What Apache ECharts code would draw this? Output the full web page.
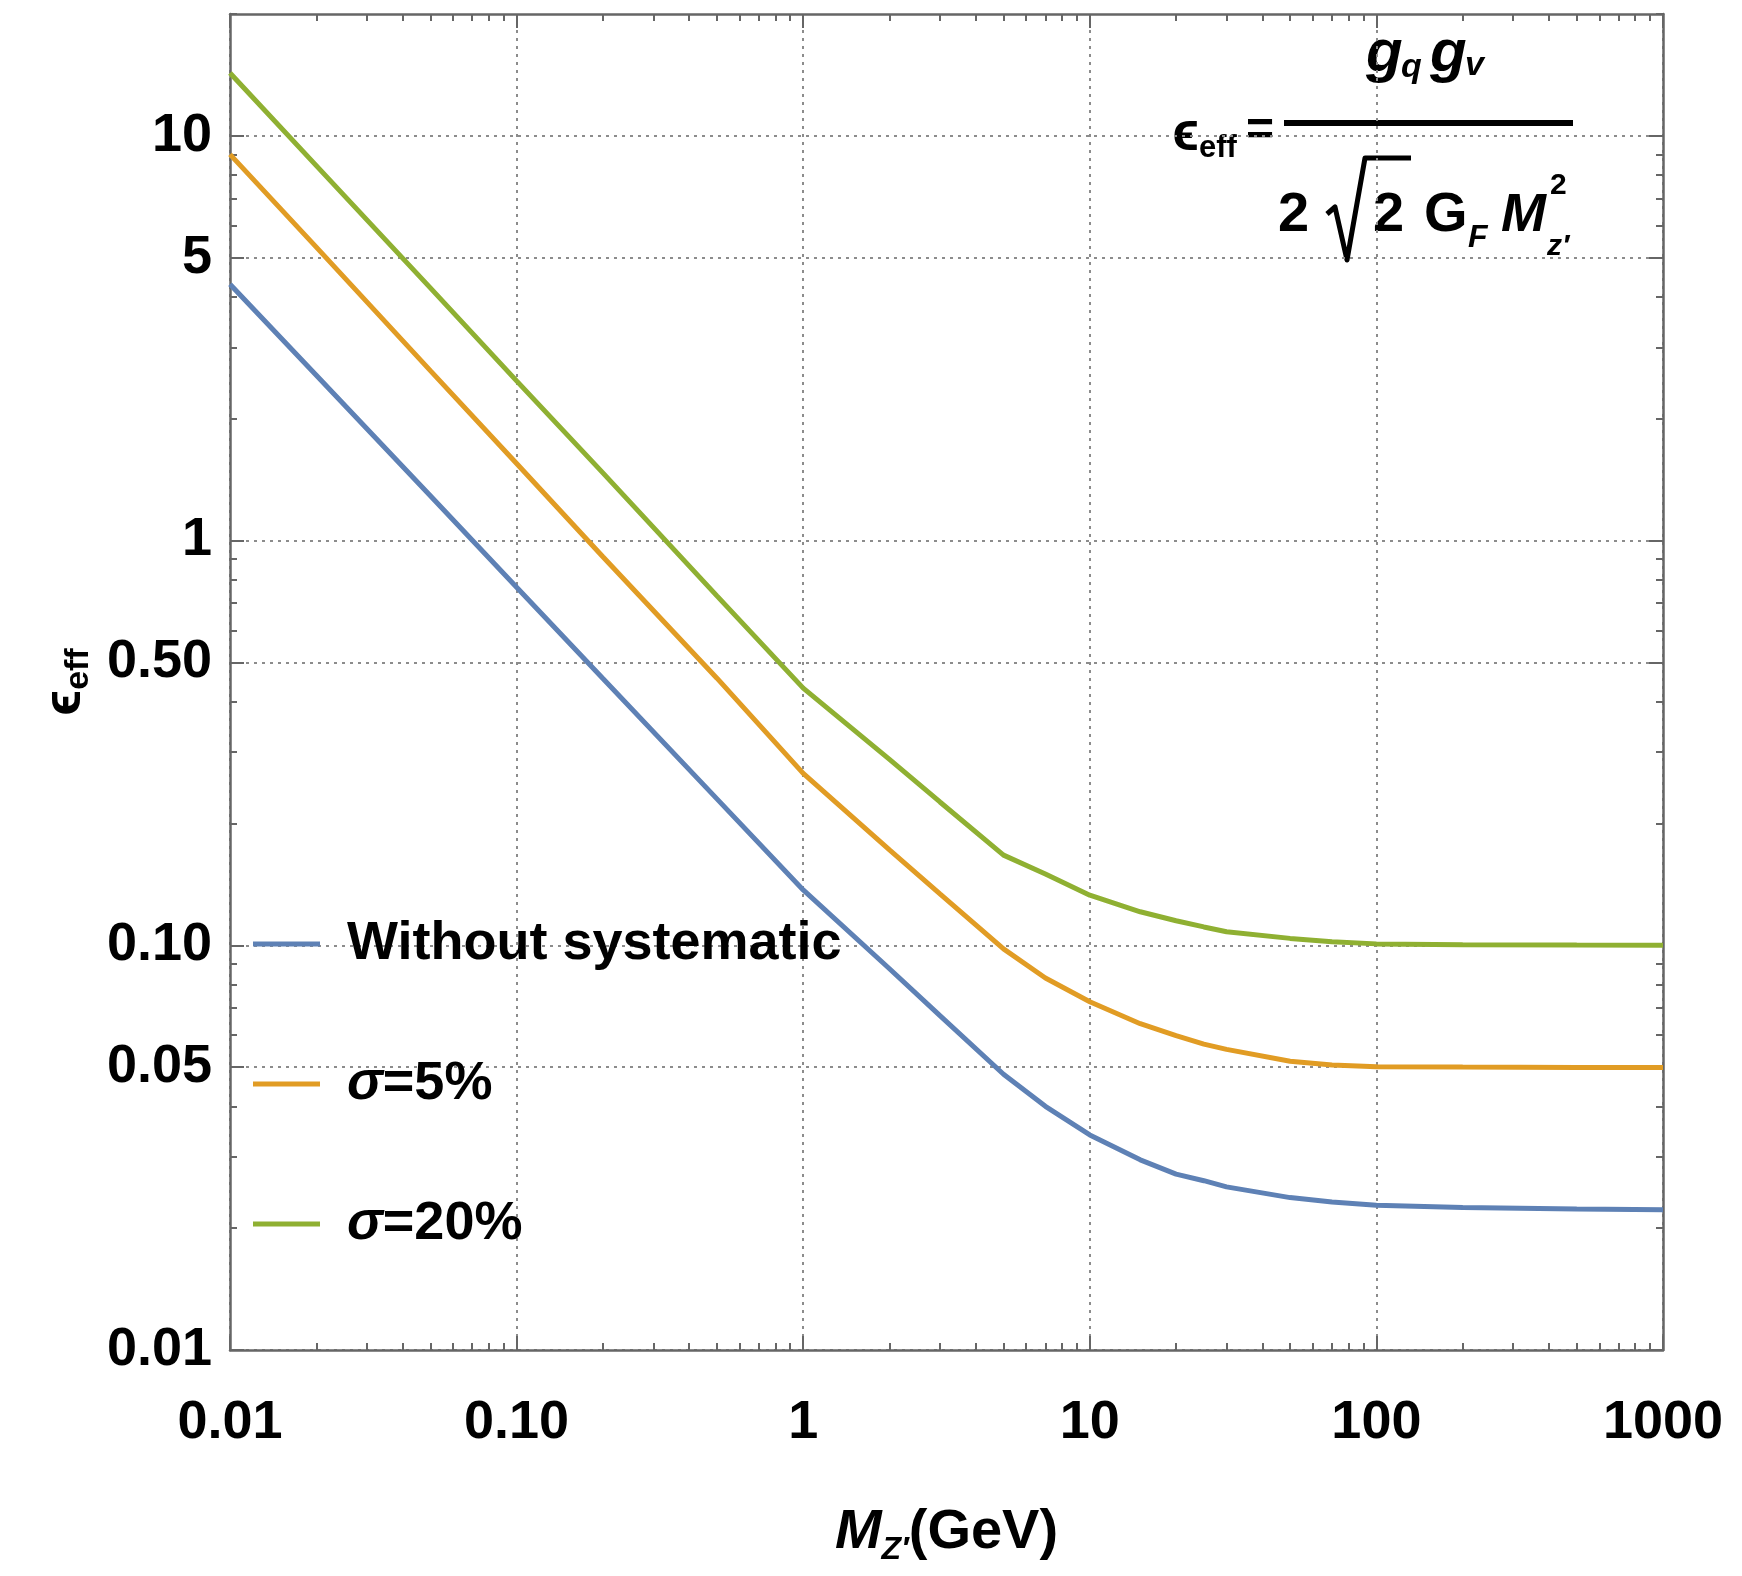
<!DOCTYPE html>
<html lang="en">
<head>
    <meta charset="UTF-8">
    <title>epsilon_eff vs M_Z'</title>
    <script src="https://cdn.jsdelivr.net/npm/echarts@6.0.0/dist/echarts.min.js"></script>
    <style>
        html, body {
            margin: 0;
            padding: 0;
            background: #fff;
        }
        #chart {
            width: 1742px;
            height: 1576px;
        }
    </style>
</head>
<body>

<div id="chart"></div>

<script>
const xValues = [0.01, 0.02, 0.05, 0.1, 0.2, 0.5, 1, 2, 3, 5, 7, 10, 15, 20, 25, 30, 50, 70, 100, 200, 500, 1000];

// epsilon_eff
const noSystValues = [4.3, 2.56, 1.29, 0.767, 0.456, 0.23, 0.137, 0.0875, 0.067, 0.048, 0.04, 0.034, 0.0295, 0.0272, 0.0262, 0.0253, 0.0238, 0.0232, 0.0228, 0.0225, 0.0223, 0.0222];
const sigma5Values = [9.0, 5.31, 2.63, 1.55, 0.912, 0.457, 0.266, 0.172, 0.134, 0.098, 0.083, 0.0725, 0.064, 0.0598, 0.057, 0.0553, 0.0517, 0.0506, 0.0501, 0.05, 0.0499, 0.0499];
const sigma20Values = [14.3, 8.44, 4.21, 2.48, 1.47, 0.73, 0.432, 0.288, 0.226, 0.167, 0.15, 0.133, 0.121, 0.115, 0.111, 0.108, 0.104, 0.102, 0.1008, 0.1003, 0.1001, 0.1];

const seriesNames = ['Without systematic', 'σ=5%', 'σ=20%'];
const seriesColors = ['#5E81B5', '#E19C24', '#8FB032'];

// tick positions and labels
const xTickValues = [0.01, 0.1, 1, 10, 100, 1000];
const xTickLabels = ['0.01', '0.10', '1', '10', '100', '1000'];
const yTickValues = [0.01, 0.05, 0.1, 0.5, 1, 5, 10];
const yTickLabels = ['0.01', '0.05', '0.10', '0.50', '1', '5', '10'];
const xMinorTicks = [
    0.02, 0.03, 0.04, 0.05, 0.06, 0.07, 0.08, 0.09,
    0.2, 0.3, 0.4, 0.5, 0.6, 0.7, 0.8, 0.9,
    2, 3, 4, 5, 6, 7, 8, 9,
    20, 30, 40, 50, 60, 70, 80, 90,
    200, 300, 400, 500, 600, 700, 800, 900
];
const yMinorTicks = [0.02, 0.03, 0.04, 0.06, 0.07, 0.08, 0.09, 0.2, 0.3, 0.4, 0.6, 0.7, 0.8, 0.9, 2, 3, 4, 6, 7, 8, 9, 20];

const xRange = [0.01, 1000];
const yRange = [0.01, 20];

const FONT = '"Liberation Sans", Arial, sans-serif';
const FRAME = '#666';

// log-log plot: axes are linear in log10 of the values
const L = v => Math.log10(v);

function makeFormatter(values, labels) {
    const lookup = {};
    values.forEach((v, i) => { lookup[L(v).toFixed(6)] = labels[i]; });
    return val => lookup[val.toFixed(6)] || '';
}

// extra axes that only draw the frame and its ticks
function frameAxis(dim, position, ticks, tickLen, showLine) {
    const range = dim === 'x' ? xRange : yRange;
    return {
        type: 'value',
        position: position,
        min: L(range[0]),
        max: L(range[1]),
        axisLine: { show: showLine, onZero: false, lineStyle: { color: FRAME, width: 2.5 } },
        axisTick: {
            show: true,
            inside: true,
            length: tickLen,
            customValues: ticks.map(L),
            lineStyle: { color: FRAME, width: 2 }
        },
        axisLabel: { show: false },
        splitLine: { show: false }
    };
}

function txt(x, y, text, font, align) {
    return {
        type: 'text', x: x, y: y,
        style: { text: text, font: font + ' ' + FONT, fill: '#000', align: align || 'left', verticalAlign: 'middle' }
    };
}

function initChart() {
    const chart = echarts.init(document.getElementById('chart'));

    const valueSets = [noSystValues, sigma5Values, sigma20Values];
    const series = valueSets.map((vals, i) => ({
        name: seriesNames[i],
        type: 'line',
        xAxisIndex: 0,
        yAxisIndex: 0,
        data: xValues.map((x, j) => [L(x), L(vals[j])]),
        showSymbol: false,
        smooth: false,
        lineStyle: { color: seriesColors[i], width: 5 },
        itemStyle: { color: seriesColors[i] },
        z: 3
    }));

    const gridLine = { show: true, lineStyle: { color: '#8c8c8c', width: 2, type: [3, 5] } };

    const option = {
        animation: false,
        backgroundColor: '#fff',
        grid: { left: 230, right: 79, top: 14, bottom: 226 },
        xAxis: [
            {
                type: 'value',
                position: 'bottom',
                min: L(xRange[0]),
                max: L(xRange[1]),
                axisLine: { show: true, onZero: false, lineStyle: { color: FRAME, width: 2.5 } },
                axisTick: {
                    show: true, inside: true, length: 14,
                    customValues: xTickValues.map(L),
                    lineStyle: { color: FRAME, width: 2 }
                },
                axisLabel: {
                    customValues: xTickValues.map(L),
                    formatter: makeFormatter(xTickValues, xTickLabels),
                    fontFamily: FONT, fontWeight: 'bold', fontSize: 54, color: '#000',
                    margin: 46
                },
                splitLine: gridLine,
                name: '{m|M}{s|Z′}(GeV)',
                nameLocation: 'middle',
                nameGap: 150,
                nameTextStyle: {
                    fontFamily: FONT, fontWeight: 'bold', fontSize: 56, color: '#000',
                    rich: {
                        m: { fontFamily: FONT, fontWeight: 'bold', fontStyle: 'italic', fontSize: 56, lineHeight: 66 },
                        s: { fontFamily: FONT, fontWeight: 'bold', fontStyle: 'italic', fontSize: 32, lineHeight: 66, verticalAlign: 'bottom' }
                    }
                }
            },
            frameAxis('x', 'bottom', xMinorTicks, 7, false),
            frameAxis('x', 'top', xTickValues, 14, true),
            frameAxis('x', 'top', xMinorTicks, 7, false)
        ],
        yAxis: [
            {
                type: 'value',
                position: 'left',
                min: L(yRange[0]),
                max: L(yRange[1]),
                axisLine: { show: true, onZero: false, lineStyle: { color: FRAME, width: 2.5 } },
                axisTick: {
                    show: true, inside: true, length: 14,
                    customValues: yTickValues.map(L),
                    lineStyle: { color: FRAME, width: 2 }
                },
                axisLabel: {
                    customValues: yTickValues.map(L),
                    formatter: makeFormatter(yTickValues, yTickLabels),
                    fontFamily: FONT, fontWeight: 'bold', fontSize: 54, color: '#000',
                    margin: 18
                },
                splitLine: gridLine,
                name: '{e|ϵ}{s|eff}',
                nameLocation: 'middle',
                nameGap: 132,
                nameRotate: 90,
                nameTextStyle: {
                    fontFamily: FONT, fontWeight: 'bold', fontSize: 54, color: '#000',
                    rich: {
                        e: { fontFamily: FONT, fontWeight: 'bold', fontSize: 54, lineHeight: 62 },
                        s: { fontFamily: FONT, fontWeight: 'bold', fontSize: 34, lineHeight: 62, verticalAlign: 'bottom' }
                    }
                }
            },
            frameAxis('y', 'left', yMinorTicks, 7, false),
            frameAxis('y', 'right', yTickValues, 14, true),
            frameAxis('y', 'right', yMinorTicks, 7, false)
        ],
        legend: {
            orient: 'vertical',
            left: 248,
            top: 904,
            icon: 'rect',
            itemWidth: 67,
            itemHeight: 5,
            itemGap: 70,
            data: seriesNames,
            formatter: name => name.replace('σ', '{it|σ}'),
            textStyle: {
                fontFamily: FONT, fontWeight: 'bold', fontSize: 54, lineHeight: 70, color: '#000',
                padding: [0, 0, 0, 22],
                rich: {
                    it: { fontFamily: FONT, fontWeight: 'bold', fontStyle: 'italic', fontSize: 54, lineHeight: 70 }
                }
            }
        },
        graphic: [
            // epsilon_eff = g_q g_v / (2 sqrt2 G_F M_Z'^2)
            txt(1199, 135, 'ϵ', 'bold 56px', 'right'),
            txt(1199, 148, 'eff', 'bold 31px'),
            txt(1246, 132, '=', 'bold 48px'),
            { type: 'line', shape: { x1: 1284, y1: 123, x2: 1573, y2: 123 }, style: { stroke: '#000', lineWidth: 6 } },
            txt(1366, 54, 'g', 'italic bold 60px'),
            txt(1401, 68, 'q', 'italic bold 34px'),
            txt(1430, 54, 'g', 'italic bold 60px'),
            txt(1465, 66, 'v', 'italic bold 34px'),
            txt(1278, 216, '2', 'bold 56px'),
            {
                type: 'polyline',
                shape: { points: [[1327, 214], [1335, 207], [1347, 260], [1365, 158], [1411, 158]] },
                style: { stroke: '#000', lineWidth: 5, fill: null, lineJoin: 'round' }
            },
            txt(1373, 216, '2', 'bold 56px'),
            txt(1424, 216, 'G', 'bold 56px'),
            txt(1468, 238, 'F', 'italic bold 32px'),
            txt(1501, 216, 'M', 'italic bold 54px'),
            txt(1550, 186, '2', 'bold 30px'),
            txt(1547, 247, 'z′', 'italic bold 30px')
        ],
        series: series
    };

    chart.setOption(option);
}

initChart();
</script>

</body>
</html>
